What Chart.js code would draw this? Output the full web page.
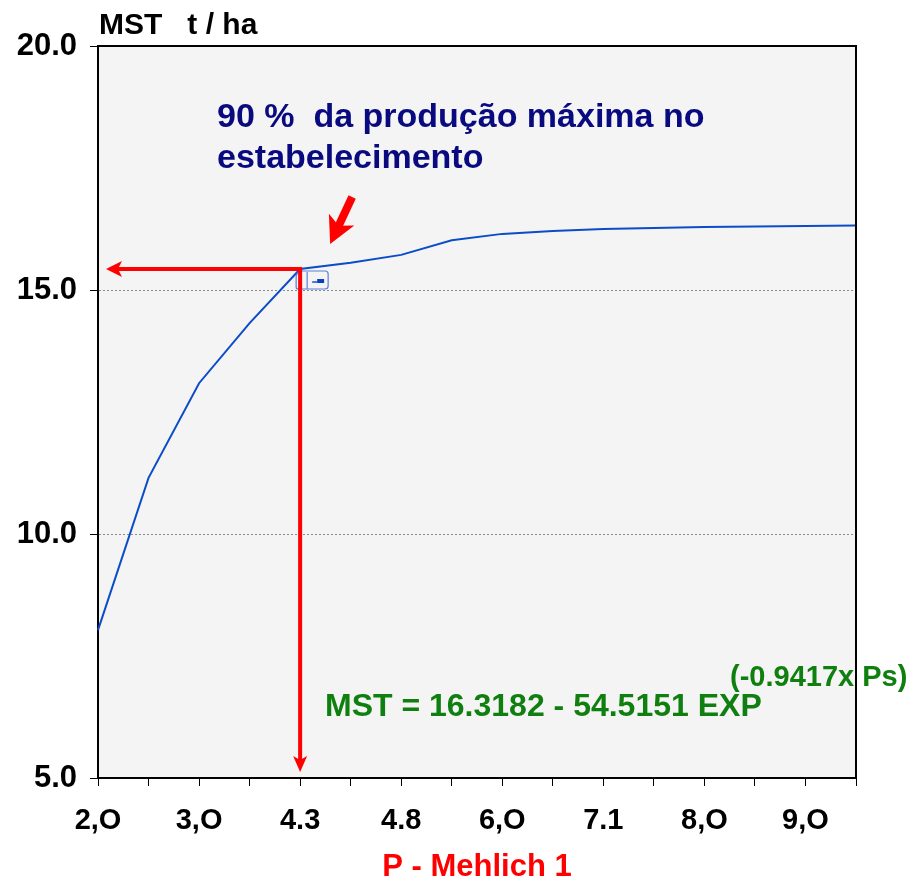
<!DOCTYPE html>
<html>
<head>
<meta charset="utf-8">
<title>MST x P - Mehlich 1</title>
<script src="https://cdn.jsdelivr.net/npm/chart.js@4.4.1/dist/chart.umd.min.js"></script>
<style>
  html, body { margin: 0; padding: 0; background: #fff; }
  canvas { display: block; }
</style>
</head>
<body>
<canvas id="chart" width="912" height="885"></canvas>
<script>
// eixo x: P - Mehlich 1 (rótulos só nas marcas pares)
const pLabels = ["2,O", "", "3,O", "", "4.3", "", "4.8", "", "6,O", "", "7.1", "", "8,O", "", "9,O", ""];
// MST t/ha
const mstValues = [8.03, 11.15, 13.09, 14.32, 15.43, 15.56, 15.72, 16.02, 16.15, 16.21, 16.25, 16.27, 16.29, 16.30, 16.31, 16.32];
const yTicks = [5, 10, 15, 20];
// ponto de 90 % da produção máxima
const markIndex = 4;
const markValue = 15.43;

const FONT = "'Liberation Sans', Arial, sans-serif";

function arrowHead(ctx, tx, ty, ang, len, half) {
  const c = Math.cos(ang), s = Math.sin(ang);
  ctx.beginPath();
  ctx.moveTo(tx, ty);
  ctx.lineTo(tx - len * c - half * s, ty - len * s + half * c);
  ctx.lineTo(tx - len * 0.75 * c, ty - len * 0.75 * s);
  ctx.lineTo(tx - len * c + half * s, ty - len * s - half * c);
  ctx.closePath();
  ctx.fill();
}

const decor = {
  id: "decor",
  beforeDraw(chart) {
    const { ctx, chartArea: a } = chart;
    ctx.save();
    ctx.fillStyle = "#f4f4f4";
    ctx.fillRect(a.left, a.top, a.right - a.left, a.bottom - a.top);
    ctx.restore();
  },
  afterDraw(chart) {
    const { ctx, chartArea: a, scales: { x, y } } = chart;
    ctx.save();
    // moldura de cima e da direita
    ctx.strokeStyle = "#000";
    ctx.lineWidth = 2;
    ctx.beginPath();
    ctx.moveTo(a.left, a.top);
    ctx.lineTo(a.right, a.top);
    ctx.lineTo(a.right, a.bottom);
    ctx.stroke();

    const px = x.getPixelForValue(markIndex);
    const py = y.getPixelForValue(markValue);

    // pequeno ícone azul junto ao ponto
    ctx.strokeStyle = "#5b7fd6";
    ctx.lineWidth = 1.2;
    ctx.beginPath();
    ctx.roundRect(px - 4, py + 2, 32, 18, [6, 3, 3, 2]);
    ctx.moveTo(px + 7, py + 3);
    ctx.lineTo(px + 7, py + 20);
    ctx.stroke();
    ctx.fillStyle = "#0a3fc0";
    ctx.fillRect(px + 17, py + 10, 7, 4);
    ctx.fillStyle = "#4f78d8";
    ctx.fillRect(px + 12, py + 12, 5, 2);

    // linhas vermelhas
    ctx.strokeStyle = "#ff0000";
    ctx.fillStyle = "#ff0000";
    ctx.lineWidth = 4;
    ctx.beginPath();
    ctx.moveTo(px, py);
    ctx.lineTo(a.left + 18, py);
    ctx.moveTo(px, py - 2);
    ctx.lineTo(px, a.bottom - 18);
    ctx.stroke();
    arrowHead(ctx, a.left + 8, py, Math.PI, 16, 8);
    arrowHead(ctx, px, a.bottom - 6, Math.PI / 2, 16, 7);

    // seta diagonal
    const tx = px + 30, ty = py - 25;
    const sx = px + 52, sy = py - 72;
    const ang = Math.atan2(ty - sy, tx - sx);
    ctx.lineWidth = 8;
    ctx.beginPath();
    ctx.moveTo(sx, sy);
    ctx.lineTo(tx - 18 * Math.cos(ang), ty - 18 * Math.sin(ang));
    ctx.stroke();
    arrowHead(ctx, tx, ty, ang, 27, 14);

    // textos
    ctx.textBaseline = "alphabetic";
    ctx.textAlign = "left";
    ctx.fillStyle = "#000";
    ctx.font = "bold 30px " + FONT;
    ctx.fillText("MST   t / ha", 99, 34);

    ctx.fillStyle = "#0a0a80";
    ctx.font = "bold 34px " + FONT;
    ctx.fillText("90 %  da produção máxima no", 217, 127);
    ctx.fillText("estabelecimento", 217, 168);

    ctx.fillStyle = "#0f7f0f";
    ctx.font = "bold 32px " + FONT;
    ctx.fillText("MST = 16.3182 - 54.5151 EXP", 325, 716);
    ctx.font = "bold 29px " + FONT;
    ctx.fillText("(-0.9417x Ps)", 730, 686);
    ctx.restore();
  }
};

new Chart(document.getElementById("chart"), {
  type: "line",
  data: {
    labels: pLabels,
    datasets: [{
      data: mstValues,
      borderColor: "#0b4cc8",
      borderWidth: 2,
      pointRadius: 0,
      tension: 0,
      fill: false
    }]
  },
  options: {
    responsive: false,
    animation: false,
    events: [],
    layout: { padding: { top: 46, right: 56, left: 0, bottom: 0 } },
    plugins: { legend: { display: false }, tooltip: { enabled: false } },
    scales: {
      x: {
        type: "category",
        offset: false,
        ticks: {
          autoSkip: false,
          maxRotation: 0,
          color: "#000",
          padding: 18,
          font: { family: FONT, size: 29, weight: "bold" }
        },
        grid: { drawOnChartArea: false, offset: false, tickColor: "#000", tickLength: 8, lineWidth: 1 },
        border: { color: "#000", width: 2 },
        title: {
          display: true,
          text: "P - Mehlich 1",
          color: "#ff0000",
          font: { family: FONT, size: 31, weight: "bold", lineHeight: 1 },
          padding: { top: 0, bottom: 2 }
        },
        afterFit: (s) => { s.height = 107; }
      },
      y: {
        min: 5,
        max: 20,
        afterBuildTicks: (s) => { s.ticks = yTicks.map(v => ({ value: v })); },
        ticks: {
          color: "#000",
          padding: 13,
          font: { family: FONT, size: 31, weight: "bold" },
          callback: (v) => Number(v).toFixed(1)
        },
        grid: {
          color: (c) => (c.tick && (c.tick.value === 10 || c.tick.value === 15)) ? "#8c8c8c" : "rgba(0,0,0,0)",
          tickColor: "#000",
          tickLength: 8,
          lineWidth: 1
        },
        border: { color: "#000", width: 2, dash: [2, 2] },
        afterFit: (s) => { s.width = 98; }
      }
    }
  },
  plugins: [decor]
});
</script>
</body>
</html>
